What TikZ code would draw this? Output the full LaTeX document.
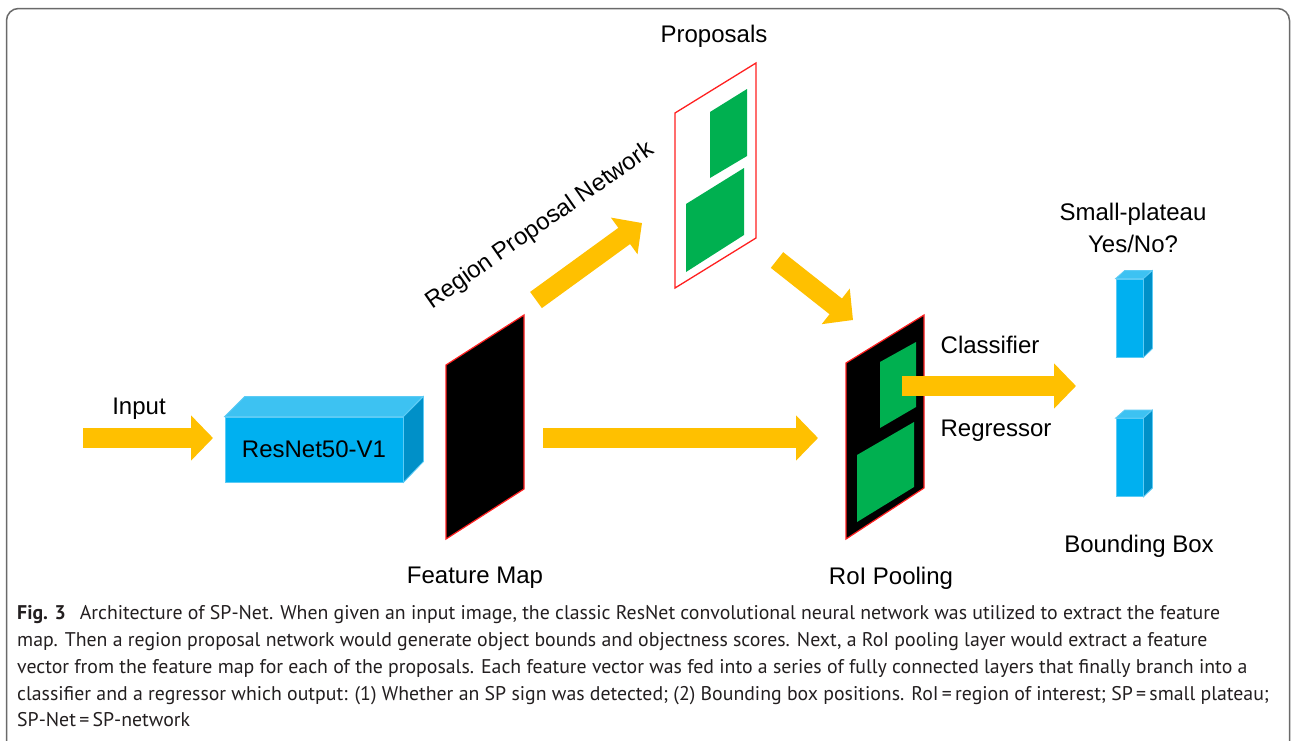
\documentclass[tikz,border=0pt]{standalone}
\usepackage{fontspec}
\setmainfont{Liberation Sans}
\newfontfamily\capfont{PT Sans}
\usetikzlibrary{arrows.meta}
\definecolor{ayel}{HTML}{FFC000}
\definecolor{bfrontc}{HTML}{00B0F0}
\definecolor{btopc}{HTML}{3DC2F2}
\definecolor{bsidec}{HTML}{0090C8}
\definecolor{bedge}{HTML}{5CCBF5}
\definecolor{fgreen}{HTML}{00B050}
\definecolor{fred}{HTML}{FF2020}
\definecolor{framec}{HTML}{6A6A6A}
\definecolor{captc}{HTML}{231F20}
\begin{document}
\begin{tikzpicture}[x=1pt,y=-1pt,
  blockarrow/.style={ayel, line width=20pt, -{Triangle[length=22pt,width=44pt]}},
  lbl/.style={font=\fontsize{24}{30}\selectfont, inner sep=0pt},
  bfront/.style={fill=bfrontc, draw=bedge, line width=0.8pt, inner sep=0pt},
  btop/.style={fill=btopc, draw=bedge, line width=0.8pt},
  bside/.style={fill=bsidec, draw=bedge, line width=0.8pt},
  fmap/.style={fill=black, draw=fred, line width=1.2pt},
  pframe/.style={fill=white, draw=fred, line width=1.3pt},
  gbox/.style={fill=fgreen},
  capline/.style={anchor=base west, inner sep=0pt, text=captc, font=\capfont\fontsize{19.8}{27}\selectfont}
]
\useasboundingbox (0,0) rectangle (1292,740);
\fill[white] (0,0) rectangle (1292,740);
\draw[framec, line width=1.5pt, rounded corners=12pt] (6.5,8.5) rectangle (1289.5,760);

% ---- ResNet block
\node[bfront, minimum width=178pt, minimum height=65pt, font=\fontsize{24}{28}\selectfont] (resnet) at (314,449.5) {ResNet50-V1};
\draw[btop] (resnet.north west) -- ++(20,-20) -- ++(178,0) -- (resnet.north east) -- cycle;
\draw[bside] (resnet.north east) -- ++(20,-20) -- ++(0,65) -- (resnet.south east) -- cycle;

% ---- Feature map
\coordinate (fm1) at (446,365); \coordinate (fm2) at (524,315);
\coordinate (fm3) at (524,489); \coordinate (fm4) at (446,539);
\draw[fmap] (fm1) -- (fm2) -- (fm3) -- (fm4) -- cycle;

% ---- Proposals
\draw[pframe] (675,113) -- (756,63) -- (756,238) -- (675,288) -- cycle;
\fill[gbox] (710,112) -- (747,89) -- (747,156) -- (710,178) -- cycle;
\fill[gbox] (686,204) -- (744,168) -- (744,235) -- (686,272) -- cycle;

% ---- RoI pooling
\draw[fmap] (846,363) -- (924,315) -- (924,488) -- (846,539) -- cycle;
\fill[gbox] (880,362) -- (916,342) -- (916,407) -- (880,428) -- cycle;
\fill[gbox] (857,455) -- (914,422) -- (914,487) -- (857,522) -- cycle;

% ---- small output boxes
\node[bfront, minimum width=27pt, minimum height=78pt] (cls) at (1129.5,318) {};
\draw[btop] (cls.north west) -- ++(9,-8) -- ++(27,0) -- (cls.north east) -- cycle;
\draw[bside] (cls.north east) -- ++(9,-8) -- ++(0,78) -- (cls.south east) -- cycle;
\node[bfront, minimum width=27pt, minimum height=78pt] (reg) at (1129.5,457.5) {};
\draw[btop] (reg.north west) -- ++(9,-8) -- ++(27,0) -- (reg.north east) -- cycle;
\draw[bside] (reg.north east) -- ++(9,-8) -- ++(0,78) -- (reg.south east) -- cycle;

% ---- arrows
\coordinate (inS) at (83,438);   \coordinate (inE) at (213,438);
\coordinate (fmS) at (543,438);  \coordinate (fmE) at (818,438);
\coordinate (rpS) at (536,300);  \coordinate (rpE) at (642,223);
\coordinate (prS) at (777,260);  \coordinate (prE) at (853,320);
\coordinate (clS) at (902,386);  \coordinate (clE) at (1076,386);
\draw[blockarrow] (inS) -- (inE);
\draw[blockarrow] (fmS) -- (fmE);
\draw[blockarrow] (rpS) -- (rpE);
\draw[blockarrow] (prS) -- (prE);
\draw[blockarrow] (clS) -- (clE);

% ---- labels
\node[lbl] (tin) at (139,409) {Input};
\node[lbl] (tfm) at (475,578) {Feature Map};
\node[lbl] (tpr) at (714,36) {Proposals};
\node[lbl] (troi) at (891,578) {RoI Pooling};
\node[lbl] (tcls) at (990,345) {Classifier};
\node[lbl] (treg) at (996,431) {Regressor};
\node[lbl, align=center, font=\fontsize{24}{32}\selectfont] (tsp) at (1133,228) {Small-plateau\\Yes/No?};
\node[lbl] (tbb) at (1139,546) {Bounding Box};
\node[lbl, rotate=35] (trpn) at (540,226) {Region Proposal Network};

% ---- caption
\node[capline] (c1) at (17,619) {\textbf{Fig. 3}\hspace{0.7em}Architecture of SP-Net. When given an input image, the classic ResNet convolutional neural network was utilized to extract the feature};
\node[capline] (c2) at (17,646) {map. Then a region proposal network would generate object bounds and objectness scores. Next, a RoI pooling layer would extract a feature};
\node[capline] (c3) at (17,673) {vector from the feature map for each of the proposals. Each feature vector was fed into a series of fully connected layers that finally branch into a};
\node[capline] (c4) at (17,700) {classifier and a regressor which output: (1) Whether an SP sign was detected; (2) Bounding box positions. RoI\,=\,region of interest; SP\,=\,small plateau;};
\node[capline] (c5) at (17,726) {SP-Net\,=\,SP-network};
\end{tikzpicture}
\end{document}
